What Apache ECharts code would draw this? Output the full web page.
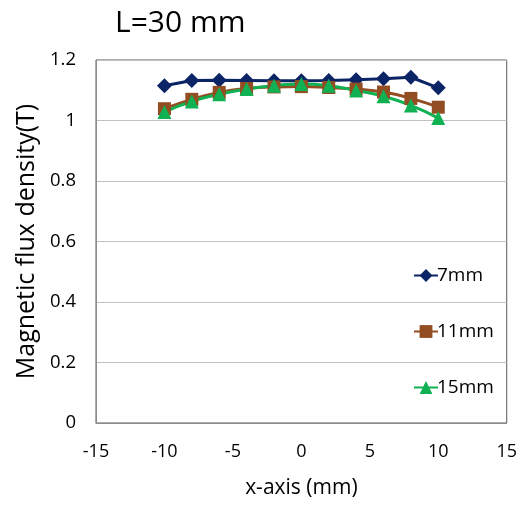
<!DOCTYPE html>
<html>
<head>
<meta charset="utf-8">
<script src="https://cdn.jsdelivr.net/npm/echarts@6/dist/echarts.min.js"></script>
<style>
html,body{margin:0;padding:0;background:#fff;}
#c{width:520px;height:507px;}
</style>
</head>
<body>
<div id="c"></div>
<script>
var xValues = [-10, -8, -6, -4, -2, 0, 2, 4, 6, 8, 10];
var series7mm = [1.115, 1.132, 1.133, 1.132, 1.131, 1.131, 1.132, 1.135, 1.138, 1.143, 1.108];
var series11mm = [1.039, 1.070, 1.093, 1.106, 1.111, 1.112, 1.109, 1.104, 1.094, 1.073, 1.044];
var series15mm = [1.028, 1.063, 1.087, 1.104, 1.115, 1.121, 1.115, 1.099, 1.080, 1.050, 1.008];
var seriesNames = ['7mm', '11mm', '15mm'];

function pairs(ys){ return xValues.map(function(x,i){ return [x, ys[i]]; }); }

var font = '"Open Sans", Lato, sans-serif';
var chart = echarts.init(document.getElementById('c'), null, {renderer:'canvas'});
chart.setOption({
  animation:false,
  backgroundColor:'#fff',
  title:{
    text:'L=30 mm', left:110, top:3,
    textStyle:{fontFamily:font, fontSize:30, fontWeight:'normal', color:'#000'}
  },
  grid:{left:96, right:13, top:60, bottom:84, show:true, borderColor:'#595959', borderWidth:1},
  legend:{
    orient:'vertical', left:408, top:261, itemGap:37, itemWidth:24, itemHeight:16,
    textStyle:{fontFamily:font, fontSize:19, color:'#000', padding:[0,0,0,-6]},
    data:seriesNames
  },
  xAxis:{
    type:'value', min:-15, max:15, interval:5,
    name:'x-axis (mm)', nameLocation:'middle', nameGap:55,
    nameTextStyle:{fontFamily:font, fontSize:21, color:'#000'},
    axisLine:{show:true, onZero:false, lineStyle:{color:'#8c8c8c'}},
    axisTick:{show:false},
    axisLabel:{fontFamily:font, fontSize:18, color:'#000', margin:20},
    splitLine:{show:false}
  },
  yAxis:{
    type:'value', min:0, max:1.2, interval:0.2,
    name:'Magnetic flux density(T)', nameLocation:'middle', nameGap:57,
    nameTextStyle:{fontFamily:font, fontSize:25, color:'#000'},
    axisLine:{show:true, onZero:false, lineStyle:{color:'#8c8c8c'}},
    axisTick:{show:false},
    axisLabel:{fontFamily:font, fontSize:18.5, color:'#000', margin:20},
    splitLine:{show:true, lineStyle:{color:'#c0c0c0', width:1}}
  },
  series:[
    {name:'7mm', type:'line', data:pairs(series7mm), symbol:'diamond', symbolSize:15,
     lineStyle:{color:'#0b2466', width:3}, itemStyle:{color:'#0b2466'}},
    {name:'11mm', type:'line', data:pairs(series11mm), symbol:'rect', symbolSize:13, smooth:true,
     lineStyle:{color:'#934d22', width:3}, itemStyle:{color:'#934d22'}},
    {name:'15mm', type:'line', data:pairs(series15mm), symbol:'triangle', symbolSize:14, smooth:true,
     lineStyle:{color:'#10b153', width:3}, itemStyle:{color:'#10b153'}}
  ]
});
</script>
</body>
</html>
